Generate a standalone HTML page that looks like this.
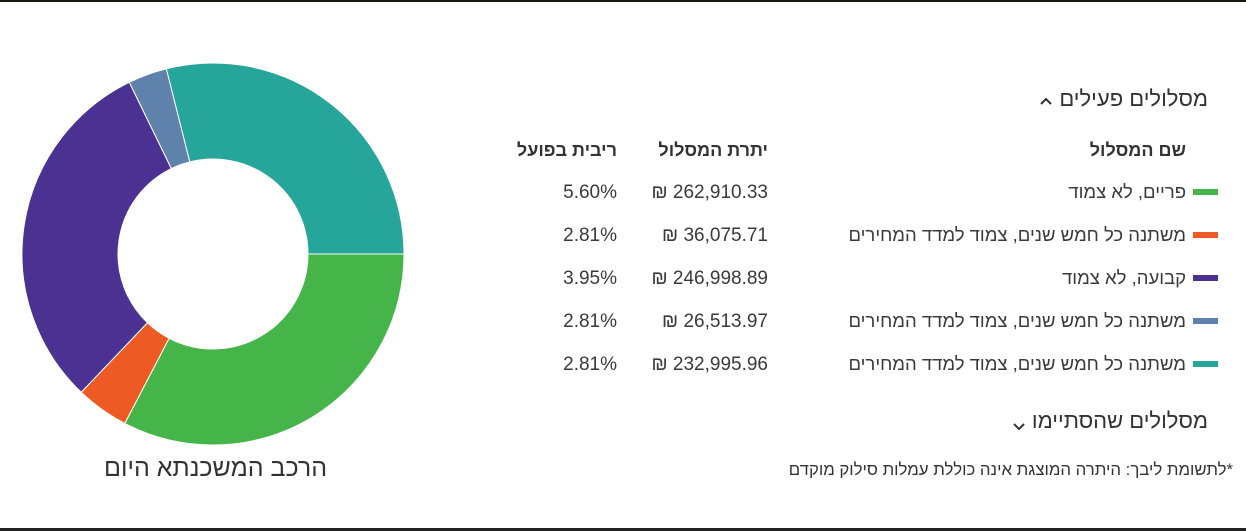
<!DOCTYPE html>
<html><head><meta charset="utf-8">
<style>
html,body{margin:0;padding:0;background:#fff;}
body{width:1246px;height:531px;position:relative;overflow:hidden;font-family:"Liberation Sans","Noto Sans CJK JP",sans-serif;color:#3a3a3a;}
.t{position:absolute;white-space:nowrap;direction:rtl;line-height:1;}
.ltr{direction:ltr;}
.sw{position:absolute;width:25px;height:6px;}
</style></head><body>
<div style="position:absolute;left:0;top:0;width:1246px;height:2px;background:#1a1612"></div>
<div style="position:absolute;left:0;top:528px;width:1246px;height:3px;background:#222"></div>

<svg id="chart" width="430" height="460" style="position:absolute;left:0;top:40px"></svg>
<div class="t" style="left:104px;top:456px;font-size:25px;color:#333;">הרכב המשכנתא היום</div>

<div class="t" style="right:38px;top:88px;font-size:22px;color:#333">מסלולים פעילים</div>
<svg width="12" height="8" style="position:absolute;left:1040px;top:97px"><polyline points="1,7 6,2 11,7" fill="none" stroke="#333" stroke-width="2"/></svg>

<div class="t" style="right:60px;top:141px;font-size:18px;font-weight:bold;color:#333">שם המסלול</div>
<div class="t" style="right:478px;top:141px;font-size:18px;font-weight:bold;color:#333">יתרת המסלול</div>
<div class="t" style="right:629px;top:141px;font-size:18px;font-weight:bold;color:#333">ריבית בפועל</div>

<div id="rows"></div>

<div class="t" style="right:38px;top:410px;font-size:22px;color:#333">מסלולים שהסתיימו</div>
<svg width="12" height="8" style="position:absolute;left:1013px;top:423px"><polyline points="1,1 6,6 11,1" fill="none" stroke="#333" stroke-width="2"/></svg>
<div class="t" style="right:13px;top:462px;font-size:16.8px;color:#333">*לתשומת ליבך: היתרה המוצגת אינה כוללת עמלות סילוק מוקדם</div>

<script>
const names=["פריים, לא צמוד","משתנה כל חמש שנים, צמוד למדד המחירים","קבועה, לא צמוד","משתנה כל חמש שנים, צמוד למדד המחירים","משתנה כל חמש שנים, צמוד למדד המחירים"];
const balances=[262910.33,36075.71,246998.89,26513.97,232995.96];
const rates=[5.60,2.81,3.95,2.81,2.81];
const colors=["#46b549","#ee5a24","#4b3292","#5f82ad","#26a69a"];

const svg=document.getElementById('chart');
const NS="http://www.w3.org/2000/svg";
const cx=213,cy=214,R=191,r=95;
const total=balances.reduce((a,b)=>a+b,0);
let ang=Math.PI/2;
function pt(a,rad){return [cx+rad*Math.sin(a),cy-rad*Math.cos(a)];}
balances.forEach((v,i)=>{
  const a0=ang,a1=ang+v/total*2*Math.PI;ang=a1;
  const large=(a1-a0)>Math.PI?1:0;
  const p0=pt(a0,R),p1=pt(a1,R),q1=pt(a1,r),q0=pt(a0,r);
  const p=document.createElementNS(NS,'path');
  p.setAttribute('d',`M${p0[0]},${p0[1]} A${R},${R} 0 ${large} 1 ${p1[0]},${p1[1]} L${q1[0]},${q1[1]} A${r},${r} 0 ${large} 0 ${q0[0]},${q0[1]} Z`);
  p.setAttribute('fill',colors[i]);
  p.setAttribute('stroke','#fff');p.setAttribute('stroke-width','1');
  
  
  svg.appendChild(p);
});

const rows=document.getElementById('rows');
function fmt(n){return n.toLocaleString('en-US',{minimumFractionDigits:2,maximumFractionDigits:2});}
names.forEach((n,i)=>{
  const y=183+i*43;
  const sw=document.createElement('div');sw.className='sw';
  sw.style.left='1193px';sw.style.top=(y+6)+'px';sw.style.background=colors[i];
  
  
  rows.appendChild(sw);
  const nm=document.createElement('div');nm.className='t';
  nm.style.right='60px';nm.style.top=y+'px';nm.style.fontSize='18.5px';nm.textContent=n;
  
  
  rows.appendChild(nm);
  const b=document.createElement('div');b.className='t ltr';
  b.style.right='478px';b.style.top=y+'px';b.style.fontSize='19px';b.textContent='₪ '+fmt(balances[i]);
  
  
  rows.appendChild(b);
  const rt=document.createElement('div');rt.className='t ltr';
  rt.style.right='629px';rt.style.top=y+'px';rt.style.fontSize='19px';rt.textContent=rates[i].toFixed(2)+'%';
  
  
  rows.appendChild(rt);
});
</script>
</body></html>
